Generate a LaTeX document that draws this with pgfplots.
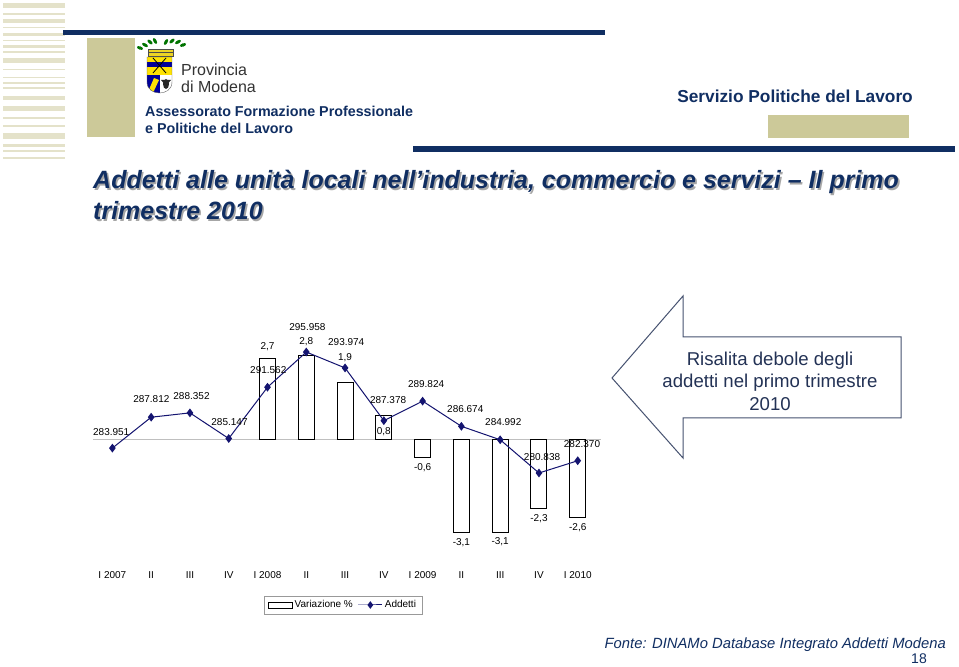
\documentclass[border=0pt]{standalone}
\usepackage{pgfplots}
\pgfplotsset{compat=1.18}
\usepackage{fontspec}
\setmainfont{Liberation Sans}
\definecolor{navy}{RGB}{16,46,98}
\definecolor{beigeblk}{RGB}{204,201,153}
\definecolor{stripe}{RGB}{228,226,202}
\definecolor{serieline}{RGB}{20,20,112}
\definecolor{arrowline}{RGB}{70,82,112}
\definecolor{arrowtext}{RGB}{35,50,85}
\newcommand{\fs}[1]{\fontsize{#1}{#1}\selectfont}
\pgfplotsset{
  longline legend/.style={legend image code/.code={%
    \draw[mark repeat=2, mark phase=2, ##1] plot coordinates {(0pt,0pt) (12pt,0pt) (24pt,0pt)};}},
  box legend/.style={legend image code/.code={%
    \draw[black, line width=0.8pt, fill=white] (0pt,-3pt) rectangle (24pt,3pt);}},
}

\begin{document}
\begin{tikzpicture}
\fill[white] (0pt,0pt) rectangle (959pt,667pt);

% slide decorations, coordinates in pixels measured from the top left
\begin{scope}[x=1pt, y=-1pt, yshift=667pt]
  \foreach \a/\b in {3/8,13/15,19/23,27/28,33/36,40/41,45/48,51/53,58/63,69/70,77/78,82/84,87/89,96/100,106/111,117/119,125/127,133/139,144/147,150/152,157/159}
    \fill[stripe] (3,\a) rectangle (65,\b);
  \fill[navy] (63,30) rectangle (605,35.5);
  \fill[navy] (413,146.5) rectangle (955,152);
  \fill[beigeblk] (87,38) rectangle (135,137);
  \fill[beigeblk] (768,115) rectangle (909,138);

  % crest
  \foreach \p/\r in {{(140,48)}/-20,{(145,45)}/-30,{(150,42)}/-40,{(155,41)}/-60,{(166,42)}/-120,{(172,41)}/-140,{(178,42)}/-150,{(183,45)}/-160}
    \fill[green!45!black] \p ellipse [x radius=3.2, y radius=1.6, rotate=\r];
  \filldraw[fill=yellow!70!brown, draw=black!70, line width=0.6pt] (148,49) rectangle (173,56);
  \draw[black!70, line width=0.5pt] (148,52.5) -- (173,52.5);
  \begin{scope}
    \clip (147,57) -- (172,57) -- (172,82) .. controls (172,90) and (165,93) .. (159.5,93)
          .. controls (154,93) and (147,90) .. (147,82) -- cycle;
    \fill[yellow!85!orange] (147,57) rectangle (172,75);
    \fill[blue!60!black] (147,62) rectangle (172,67);
    \draw[black, line width=0.8pt] (153,58) -- (166,73) (166,58) -- (153,73);
    \fill[blue!60!black] (147,75) rectangle (160,93);
    \fill[yellow!85!orange] (148,92) -- (154,78) -- (159,80) -- (153,93) -- cycle;
    \fill[white] (160,75) rectangle (172,93);
    \fill[black!85] (166,84) ellipse [x radius=3, y radius=5];
    \fill[black!85] (161,80) -- (171,80) -- (166,86) -- cycle;
  \end{scope}
  \draw[black!60, line width=0.4pt] (147,57) -- (172,57) -- (172,82) .. controls (172,90) and (165,93) .. (159.5,93)
          .. controls (154,93) and (147,90) .. (147,82) -- cycle;

  \node[anchor=west, inner sep=0pt, text=black!80] at (181,70) {\fs{16}Provincia};
  \node[anchor=west, inner sep=0pt, text=black!80] at (181,87) {\fs{16}di Modena};
  \node[anchor=west, inner sep=0pt, text=navy] at (145,111) {\fs{14.3}\bfseries Assessorato Formazione Professionale};
  \node[anchor=west, inner sep=0pt, text=navy] at (145,128) {\fs{14.3}\bfseries e Politiche del Lavoro};
  \node[anchor=east, inner sep=0pt, text=navy] at (913,96) {\fs{17.3}\bfseries Servizio Politiche del Lavoro};

  % title with shadow
  \foreach \dx/\dy/\c in {1.6/1.6/black!35, 0/0/navy} {
    \node[anchor=west, inner sep=0pt, text=\c] at ({93+\dx},{182+\dy}) {\fs{25}\bfseries\itshape Addetti alle unità locali nell’industria, commercio e servizi -- Il primo};
    \node[anchor=west, inner sep=0pt, text=\c] at ({93+\dx},{211+\dy}) {\fs{25}\bfseries\itshape trimestre 2010};
  }

  % arrow
  \draw[arrowline, line width=1pt, fill=white] (612,378) -- (683,296) -- (683,337) -- (901,337)
        -- (901,418) -- (683,418) -- (683,458) -- cycle;
  \node[align=center, inner sep=0pt, text=arrowtext, font=\fontsize{18.6}{22.5}\selectfont] at (770,381)
        {Risalita debole degli\\addetti nel primo trimestre\\2010};

  % footer
  \node[anchor=east, inner sep=0pt, text=navy] at (946,645) {\fs{14.8}\itshape Fonte: DINAMo Database Integrato Addetti Modena};
  \node[anchor=east, inner sep=0pt, text=navy] at (927,659) {\fs{14}18};
\end{scope}

% bars: Variazione %
\begin{axis}[
  at={(93pt,107pt)}, anchor=south west,
  width=508pt, height=240pt, scale only axis,
  xmin=-0.5, xmax=12.6,
  ymin=-4.033, ymax=3.967,
  axis line style={draw=none},
  major tick length=0pt,
  ytick=\empty,
  xtick={0,...,12},
  xticklabels={I 2007,II,III,IV,I 2008,II,III,IV,I 2009,II,III,IV,I 2010},
  xticklabel style={anchor=center, yshift=-15pt, font=\fs{10}},
  clip=false,
  legend columns=2,
  legend style={at={(rel axis cs:0.492,-0.1875)}, anchor=center,
    draw=black!40, font=\fs{10}, inner xsep=4pt, inner ysep=2.5pt,
    /tikz/every even column/.append style={column sep=3pt}},
  every node near coord/.append style={anchor=center, inner sep=0pt, text=black, font=\fs{10}},
]
\addplot[black!25, line width=0.8pt, forget plot] coordinates {(-0.5,0) (12.6,0)};
\addplot[ybar, bar width=16pt, fill=white, draw=black, line width=1pt, box legend]
  coordinates {(4,2.7) (5,2.8) (6,1.9) (7,0.8) (8,-0.6) (9,-3.1) (10,-3.1) (11,-2.3) (12,-2.6)};
\addlegendentry{Variazione \%}
\addlegendimage{serieline, line width=1pt, mark=diamond*, mark size=3pt, longline legend}
\addlegendentry{Addetti}
\addplot[draw=none, forget plot, nodes near coords, point meta=explicit symbolic]
  table[meta=l] {
x y l
4 3.067 2,7
5 3.233 2,8
6 2.700 1,9
7 0.233 0,8
8 -0.967 -0,6
9 -3.467 -3,1
10 -3.433 -3,1
11 -2.667 -2,3
12 -2.967 -2,6
};
\end{axis}

% line: Addetti (thousands)
\begin{axis}[
  at={(93pt,107pt)}, anchor=south west,
  width=508pt, height=240pt, scale only axis,
  xmin=-0.5, xmax=12.6,
  ymin=269.963, ymax=299.963,
  hide axis, clip=false,
  every node near coord/.append style={anchor=center, inner sep=0pt, text=black, font=\fs{10}},
]
\addplot[serieline, line width=1pt, mark=diamond*, mark size=3.6pt]
  coordinates {(0,283.951) (1,287.812) (2,288.352) (3,285.147) (4,291.562) (5,295.958) (6,293.974)
               (7,287.378) (8,289.824) (9,286.674) (10,284.992) (11,280.838) (12,282.370)};
\addplot[draw=none, nodes near coords, point meta=explicit symbolic]
  table[meta=l] {
x y l
-0.03 285.963 283.951
1.005 290.088 287.812
2.04 290.463 288.352
3.02 287.213 285.147
4.02 293.713 291.562
5.03 299.088 295.958
6.03 297.213 293.974
7.11 289.963 287.378
8.09 291.963 289.824
9.10 288.838 286.674
10.08 287.213 284.992
11.08 282.838 280.838
12.11 284.463 282.370
};
\end{axis}
\end{tikzpicture}
\end{document}
